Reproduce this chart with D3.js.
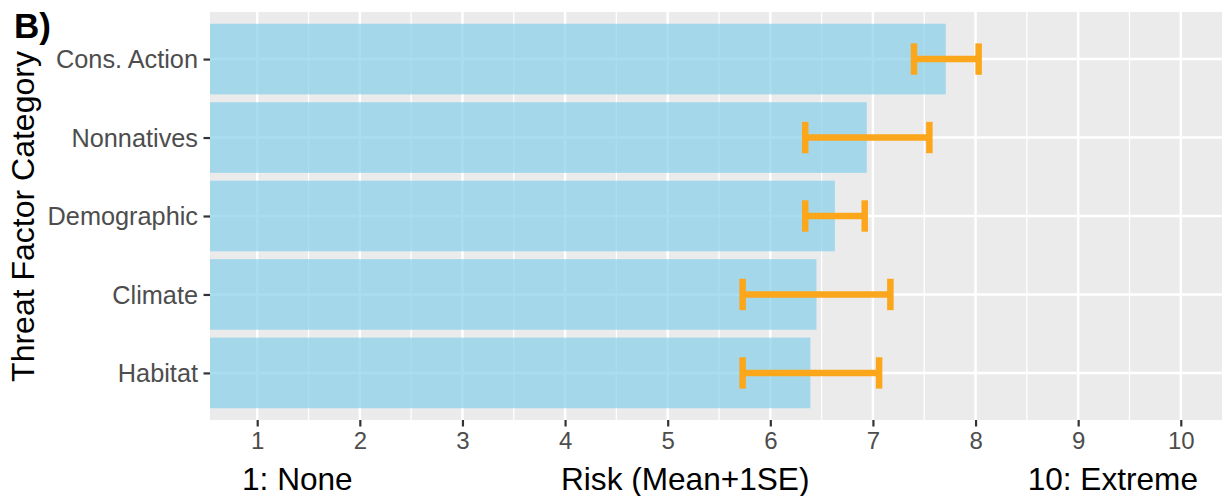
<!DOCTYPE html>
<html>
<head>
<meta charset="utf-8">
<script src="https://cdn.jsdelivr.net/npm/d3@7"></script>
<style>
  html, body { margin: 0; padding: 0; background: #ffffff; }
  svg { display: block; font-family: "Liberation Sans", Arial, sans-serif; }
</style>
</head>
<body>
<svg id="chart" width="1222" height="496"></svg>
<script>
// ---- data ----
const categories = ["Cons. Action", "Nonnatives", "Demographic", "Climate", "Habitat"];
const meanValues = [7.71, 6.94, 6.63, 6.45, 6.39];
const errLow     = [7.40, 6.34, 6.34, 5.73, 5.73];
const errHigh    = [8.03, 7.55, 6.92, 7.17, 7.06];
const xTicks     = [1, 2, 3, 4, 5, 6, 7, 8, 9, 10];
const xMinor     = [1.5, 2.5, 3.5, 4.5, 5.5, 6.5, 7.5, 8.5, 9.5];
const panelLabel = "B)";
const yTitle     = "Threat Factor Category";
const xTitleLeft = "1: None";
const xTitleMid  = "Risk (Mean+1SE)";
const xTitleRight = "10: Extreme";

const rows = categories.map((c, i) => ({ cat: c, mean: meanValues[i], lo: errLow[i], hi: errHigh[i] }));

// ---- layout ----
const svg = d3.select("#chart");
const panel = { left: 210, right: 1228, top: 12, bottom: 420 };

const x = d3.scaleLinear().domain([0.54, 10.46]).range([panel.left, panel.right]);
const y = d3.scalePoint().domain(categories).range([panel.top, panel.bottom]).padding(0.6);
const step = y.step();

svg.append("defs").append("clipPath").attr("id", "clip")
  .append("rect").attr("x", panel.left).attr("y", panel.top)
  .attr("width", panel.right - panel.left).attr("height", panel.bottom - panel.top);

// panel background
svg.append("rect")
  .attr("x", panel.left).attr("y", panel.top)
  .attr("width", panel.right - panel.left).attr("height", panel.bottom - panel.top)
  .attr("fill", "#EBEBEB");

const g = svg.append("g").attr("clip-path", "url(#clip)");

// minor grid
g.selectAll("line.minor").data(xMinor).join("line")
  .attr("class", "minor")
  .attr("x1", d => x(d)).attr("x2", d => x(d))
  .attr("y1", panel.top).attr("y2", panel.bottom)
  .attr("stroke", "#ffffff").attr("stroke-width", 1.3);

// major grid vertical
g.selectAll("line.majorx").data(xTicks).join("line")
  .attr("class", "majorx")
  .attr("x1", d => x(d)).attr("x2", d => x(d))
  .attr("y1", panel.top).attr("y2", panel.bottom)
  .attr("stroke", "#ffffff").attr("stroke-width", 2.5);

// major grid horizontal
g.selectAll("line.majory").data(categories).join("line")
  .attr("class", "majory")
  .attr("x1", panel.left).attr("x2", panel.right)
  .attr("y1", d => y(d)).attr("y2", d => y(d))
  .attr("stroke", "#ffffff").attr("stroke-width", 2.5);

// bars
const barH = step * 0.9;
g.selectAll("rect.bar").data(rows).join("rect")
  .attr("class", "bar")
  .attr("x", x(0))
  .attr("y", d => y(d.cat) - barH / 2)
  .attr("width", d => x(d.mean) - x(0))
  .attr("height", barH)
  .attr("fill", "#87CEEB")
  .attr("fill-opacity", 0.7);

// error bars
const capH = step * 0.4;
const eb = g.selectAll("g.eb").data(rows).join("g").attr("class", "eb");
const ebColor = "#FBA61B";
const ebW = 6.5;
eb.append("line")
  .attr("x1", d => x(d.lo)).attr("x2", d => x(d.hi))
  .attr("y1", d => y(d.cat)).attr("y2", d => y(d.cat))
  .attr("stroke", ebColor).attr("stroke-width", ebW);
eb.append("line")
  .attr("x1", d => x(d.lo)).attr("x2", d => x(d.lo))
  .attr("y1", d => y(d.cat) - capH / 2).attr("y2", d => y(d.cat) + capH / 2)
  .attr("stroke", ebColor).attr("stroke-width", ebW);
eb.append("line")
  .attr("x1", d => x(d.hi)).attr("x2", d => x(d.hi))
  .attr("y1", d => y(d.cat) - capH / 2).attr("y2", d => y(d.cat) + capH / 2)
  .attr("stroke", ebColor).attr("stroke-width", ebW);

// x axis
const xAxis = svg.append("g").attr("transform", `translate(0,${panel.bottom})`)
  .call(d3.axisBottom(x).tickValues(xTicks).tickFormat(d3.format("d")).tickSizeOuter(0).tickSize(6.5).tickPadding(5));
xAxis.select(".domain").remove();
xAxis.selectAll(".tick line").attr("stroke", "#333333").attr("stroke-width", 2.2);
xAxis.selectAll(".tick text")
  .attr("fill", "#4D4D4D").attr("font-size", 24)
  .attr("font-family", "Liberation Sans, Arial, sans-serif");

// y axis
const yAxis = svg.append("g").attr("transform", `translate(${panel.left},0)`)
  .call(d3.axisLeft(y).tickSizeOuter(0).tickSize(6.5).tickPadding(5.5));
yAxis.select(".domain").remove();
yAxis.selectAll(".tick line").attr("stroke", "#333333").attr("stroke-width", 2.2);
yAxis.selectAll(".tick text")
  .attr("fill", "#4D4D4D").attr("font-size", 25.3).attr("dy", "0.34em")
  .attr("font-family", "Liberation Sans, Arial, sans-serif");

// x title (three parts)
const xtSize = 31.6;
svg.append("text").attr("x", 242).attr("y", 490)
  .attr("font-size", xtSize).attr("fill", "#000").text(xTitleLeft);
svg.append("text").attr("x", 561).attr("y", 490)
  .attr("font-size", xtSize).attr("fill", "#000").text(xTitleMid);
svg.append("text").attr("x", 1198).attr("y", 490).attr("text-anchor", "end")
  .attr("font-size", xtSize).attr("fill", "#000").text(xTitleRight);

// y title
svg.append("text")
  .attr("transform", `translate(34,${(panel.top + panel.bottom) / 2 + 0.5}) rotate(-90)`)
  .attr("text-anchor", "middle")
  .attr("font-size", 32).attr("fill", "#000").text(yTitle);

// panel label
svg.append("text").attr("x", 14).attr("y", 37.5)
  .attr("font-size", 35).attr("font-weight", "bold").attr("fill", "#000").text(panelLabel);
</script>
</body>
</html>
